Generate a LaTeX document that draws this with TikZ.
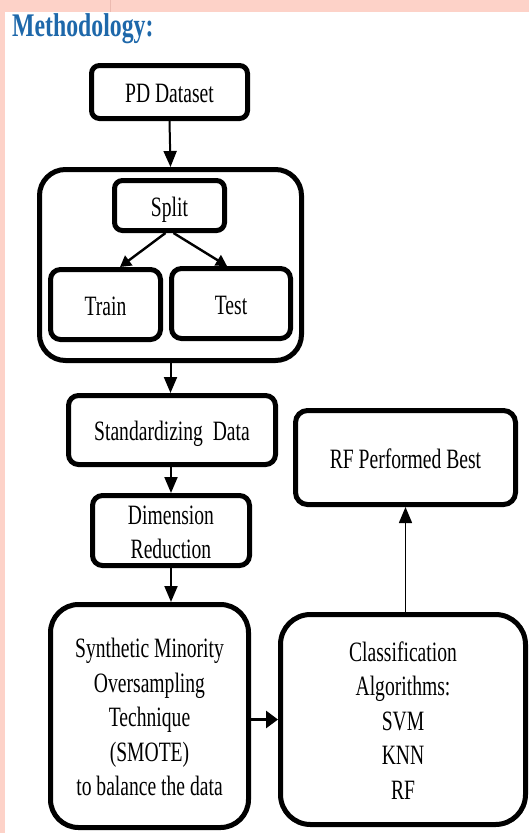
\documentclass[tikz,border=0pt]{standalone}
\usepackage{fontspec}
\setmainfont{Liberation Serif}
\usepackage{graphicx}
\usetikzlibrary{arrows.meta,calc}

\definecolor{pagepink}{RGB}{253,210,200}
\definecolor{pagerule}{RGB}{236,186,176}
\definecolor{titleblue}{RGB}{30,104,170}

% condensed, centred multi-line label, set a little below the box centre
\newcommand{\narrowtext}[1]{\raisebox{-4pt}[\height][\depth]{%
  \scalebox{0.70}[1]{\begin{tabular}{@{}c@{}}#1\end{tabular}}}}

\begin{document}
\begin{tikzpicture}[x=1pt,y=-1pt,
  box/.style={draw=black, line width=5pt, fill=white, rectangle, inner sep=0pt,
    font=\fontsize{28}{34.5}\selectfont},
  flow/.style={draw=black, line width=2pt, -{Triangle[length=16pt,width=13pt]}},
  branch/.style={draw=black, line width=2.4pt, -{Triangle[length=11pt,width=12pt]}},
  thinflow/.style={draw=black, line width=1.5pt, -{Triangle[length=16pt,width=13pt]}},
  heavyflow/.style={draw=black, line width=3pt, -{Triangle[length=12pt,width=17pt]}}
]
\useasboundingbox (0,0) rectangle (529,833);

% page background
\fill[pagepink] (0,0) rectangle (529,833);
\fill[white] (4.5,12) rectangle (529,833);
\draw[pagerule, line width=0.8pt] (110,0) -- (110,12);

% heading
\node[anchor=base west, inner sep=0pt, text=titleblue,
  font=\fontsize{33}{38}\selectfont\bfseries] (title) at (12,36)
  {\scalebox{0.72}[1]{Methodology:}};

% left column
\node[box, rounded corners=8pt, minimum width=156pt, minimum height=53pt]
  (pd) at (169.5,92) {\narrowtext{PD Dataset}};

\node[box, rounded corners=26pt, minimum width=262pt, minimum height=191pt]
  (grp) at (170.5,265) {};

\node[box, rounded corners=8pt, minimum width=110pt, minimum height=50pt]
  (split) at (169.5,205.5) {\narrowtext{Split}};
\node[box, rounded corners=10pt, minimum width=110pt, minimum height=70pt]
  (train) at (105.5,304.5) {\narrowtext{Train}};
\node[box, rounded corners=10pt, minimum width=119pt, minimum height=70pt]
  (test) at (231,303.5) {\narrowtext{Test}};

\node[box, rounded corners=10pt, minimum width=207pt, minimum height=69pt]
  (std) at (172,430) {\narrowtext{Standardizing\ \ Data}};
\node[box, rounded corners=10pt, minimum width=157pt, minimum height=70pt]
  (dim) at (171,530.5) {\narrowtext{Dimension\\Reduction}};

\node[box, rounded corners=28pt, minimum width=198pt, minimum height=223pt]
  (smote) at (149.5,716)
  {\narrowtext{Synthetic Minority\\Oversampling\\Technique\\(SMOTE)\\to balance the data}};

% right column
\node[box, rounded corners=30pt, minimum width=245pt, minimum height=210pt]
  (cls) at (403,719.5)
  {\narrowtext{Classification\\Algorithms:\\SVM\\KNN\\RF}};
\node[box, rounded corners=12pt, minimum width=220pt, minimum height=94pt]
  (rf) at (405.5,457.5) {\narrowtext{RF Performed Best}};

% connectors
\draw[flow] (pd.south) -- (grp.north);
\draw[branch] ($(split.south)+(-4,0)$) -- ($(train.north)+(14.5,0)$);
\draw[branch] ($(split.south)+(4,0)$) -- ($(test.north)+(-4,0)$);
\draw[flow] (grp.south) -- (grp.south |- std.north);
\draw[flow] (std.south -| dim.south) -- (dim.north);
\draw[flow] (dim.south) -- (dim.south |- smote.north);
\draw[heavyflow] (smote.east |- cls.west) -- (cls.west);
\draw[thinflow] (rf.south |- cls.north) -- (rf.south);
\end{tikzpicture}
\end{document}
